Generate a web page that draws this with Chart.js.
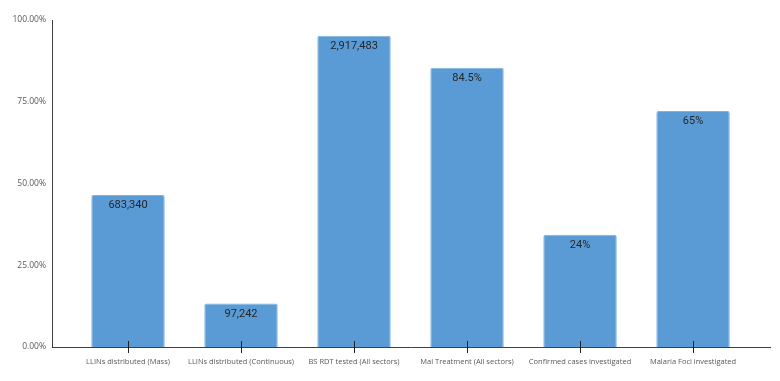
<!DOCTYPE html>
<html>
<head>
<meta charset="utf-8">
<script src="https://cdn.jsdelivr.net/npm/chart.js@4"></script>
<style>
  html, body { margin: 0; padding: 0; background: #ffffff; }
  #wrap { width: 780px; height: 381px; position: relative; }
</style>
</head>
<body>
<div id="wrap"><canvas id="c" width="780" height="381"></canvas></div>
<script>
const categories = [
  "LLINs distributed (Mass)",
  "LLINs distributed (Continuous)",
  "BS RDT tested (All sectors)",
  "Mal Treatment (All sectors)",
  "Confirmed cases investigated",
  "Malaria Foci investigated"
];
const values = [46.5, 13.3, 95.2, 85.4, 34.3, 72.2];
const valueLabels = ["683,340", "97,242", "2,917,483", "84.5%", "24%", "65%"];
const yTicks = [0, 25, 50, 75, 100];

const barColor = "#5B9BD5";
const axisColor = "#404040";
const textColor = "#595959";

const barLabelPlugin = {
  id: "barLabels",
  afterDatasetsDraw(chart) {
    const ctx = chart.ctx;
    const meta = chart.getDatasetMeta(0);
    ctx.save();
    ctx.fillStyle = "#262626";
    ctx.font = "11px Roboto";
    ctx.textAlign = "center";
    ctx.textBaseline = "middle";
    meta.data.forEach((bar, i) => {
      ctx.fillText(valueLabels[i], bar.x, bar.y + 10.5);
    });
    ctx.restore();
  },
  afterDraw(chart) {
    const ctx = chart.ctx;
    const xs = chart.scales.x;
    const y0 = chart.scales.y.getPixelForValue(0);
    ctx.save();
    ctx.strokeStyle = "#202020";
    ctx.lineWidth = 1;
    categories.forEach((_, i) => {
      const px = Math.round(xs.getPixelForValue(i)) + 0.5;
      ctx.beginPath();
      ctx.moveTo(px, y0 - 6);
      ctx.lineTo(px, y0 + 6);
      ctx.stroke();
    });
    ctx.restore();
  }
};

new Chart(document.getElementById("c"), {
  type: "bar",
  data: {
    datasets: [{
      data: values.map((v, i) => ({ x: i, y: v })),
      backgroundColor: barColor,
      borderColor: "#7FB2E0",
      borderWidth: 1,
      borderRadius: 2,
      borderSkipped: "bottom",
      barPercentage: 0.65,
      categoryPercentage: 1.0
    }]
  },
  options: {
    responsive: false,
    animation: false,
    devicePixelRatio: 1,
    layout: { padding: { top: 20, right: 10, left: 0, bottom: 0 } },
    plugins: { legend: { display: false }, tooltip: { enabled: false } },
    scales: {
      x: {
        type: "linear",
        offset: false,
        min: -0.6726,
        max: 5.681,
        grid: { display: false, drawTicks: false, offset: false },
        border: { display: true, color: axisColor, width: 1 },
        afterBuildTicks(scale) {
          scale.ticks = categories.map((_, i) => ({ value: i }));
        },
        afterFit(scale) { scale.height = 34; },
        ticks: {
          autoSkip: false,
          maxRotation: 0,
          padding: 10,
          color: textColor,
          font: { family: "'Open Sans'", size: 7.5 },
          callback: (v) => categories[v] ?? ""
        }
      },
      y: {
        min: 0,
        max: 100,
        grid: { display: false, drawTicks: false },
        border: { display: true, color: axisColor, width: 1 },
        afterBuildTicks(scale) {
          scale.ticks = yTicks.map(v => ({ value: v }));
        },
        afterFit(scale) { scale.width = 52; },
        ticks: {
          padding: 6,
          color: textColor,
          font: { family: "'Open Sans'", size: 8.5 },
          callback: (v) => v.toFixed(2) + "%"
        }
      }
    }
  },
  plugins: [barLabelPlugin]
});
</script>
</body>
</html>
